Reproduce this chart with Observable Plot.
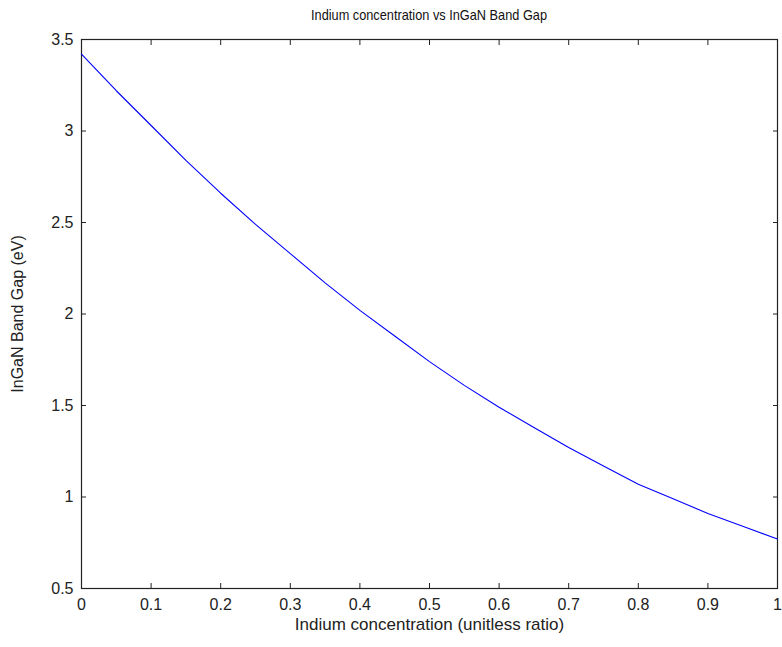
<!DOCTYPE html>
<html>
<head>
<meta charset="utf-8">
<script src="https://cdn.jsdelivr.net/npm/d3@7"></script>
<script src="https://cdn.jsdelivr.net/npm/@observablehq/plot@0.6"></script>
<style>
  html, body { margin: 0; padding: 0; background: #fff; }
  #wrap { width: 782px; height: 647px; position: relative; font-family: "Liberation Sans", Arial, sans-serif; }
  #title { position: absolute; left: 81px; width: 696px; top: 6px; line-height: 18px; text-align: center; font-size: 15px; color: #111; transform: scaleX(0.85); transform-origin: 348px 50%; }
  #chart { position: absolute; left: 0; top: 0; }
</style>
</head>
<body>
<div id="wrap">
  <div id="chart"></div>
  <div id="title">Indium concentration vs InGaN Band Gap</div>
</div>
<script>
// Data
const indium = [0, 0.05, 0.1, 0.15, 0.2, 0.25, 0.3, 0.35, 0.4, 0.45, 0.5, 0.55, 0.6, 0.65, 0.7, 0.75, 0.8, 0.85, 0.9, 0.95, 1.0];
const bandGap = [3.42, 3.22, 3.03, 2.84, 2.66, 2.49, 2.33, 2.17, 2.02, 1.88, 1.74, 1.61, 1.49, 1.38, 1.27, 1.17, 1.07, 0.99, 0.91, 0.84, 0.77];
const xTicks = [0, 0.1, 0.2, 0.3, 0.4, 0.5, 0.6, 0.7, 0.8, 0.9, 1];
const yTicks = [0.5, 1, 1.5, 2, 2.5, 3, 3.5];
const xLabel = "Indium concentration (unitless ratio)";
const yLabel = "InGaN Band Gap (eV)";

const data = indium.map((x, i) => ({x, y: bandGap[i]}));
const fmt = d => String(+d.toFixed(2));
const ink = "#222";

const plot = Plot.plot({
  width: 782,
  height: 647,
  marginLeft: 81,
  marginRight: 5,
  marginTop: 39,
  marginBottom: 59,
  style: {fontFamily: '"Liberation Sans", Arial, sans-serif', fontSize: "16px", color: ink, background: "#fff"},
  x: {domain: [0, 1]},
  y: {domain: [0.5, 3.5]},
  marks: [
    Plot.frame({stroke: ink, strokeWidth: 1.2}),
    Plot.axisX(xTicks, {anchor: "bottom", tickSize: -5, tickPadding: 15, tickFormat: fmt, label: null, stroke: ink, fill: ink, fontSize: 16}),
    Plot.axisX(xTicks, {anchor: "top", tickSize: -5, tickFormat: null, label: null, text: null, stroke: ink}),
    Plot.axisY(yTicks, {anchor: "left", tickSize: -5, tickPadding: 13, tickFormat: fmt, label: null, stroke: ink, fill: ink, fontSize: 16}),
    Plot.axisY(yTicks, {anchor: "right", tickSize: -5, tickFormat: null, label: null, text: null, stroke: ink}),
    Plot.line(data, {x: "x", y: "y", stroke: "#0000ff", strokeWidth: 1.1}),
    Plot.text([xLabel], {frameAnchor: "bottom", dy: 41, text: d => d, fill: ink, fontSize: 17}),
    Plot.text([yLabel], {frameAnchor: "left", dx: -64, rotate: -90, textAnchor: "middle", text: d => d, fill: ink, fontSize: 16})
  ]
});
document.getElementById("chart").appendChild(plot);
</script>
</body>
</html>
